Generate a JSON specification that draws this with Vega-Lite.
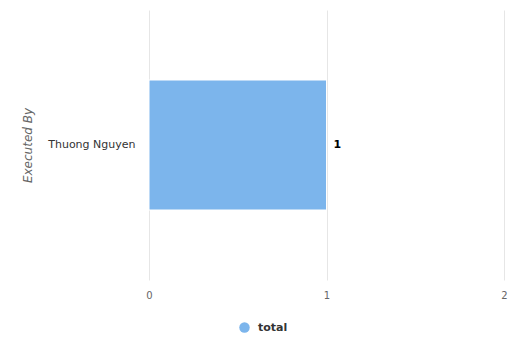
{
  "$schema": "https://vega.github.io/schema/vega-lite/v6.json",
  "autosize": "none",
  "width": 355,
  "height": 270,
  "padding": {"left": 149, "top": 10, "right": 10, "bottom": 59},
  "background": "white",
  "config": {
    "font": "DejaVu Sans",
    "view": {"stroke": null}
  },
  "data": {
    "values": [
      {"executor": "Thuong Nguyen", "series": "total", "count": 1}
    ]
  },
  "layer": [
    {
      "mark": {"type": "bar", "stroke": "white", "strokeWidth": 1},
      "encoding": {
        "y": {
          "field": "executor",
          "type": "nominal",
          "scale": {"paddingInner": 0.35, "paddingOuter": 0.35},
          "axis": {
            "title": "Executed By",
            "titleFont": "DejaVu Sans",
            "titleFontStyle": "italic",
            "titleFontWeight": "normal",
            "titleFontSize": 12,
            "titleColor": "#666666",
            "titlePadding": 13,
            "labelFont": "DejaVu Sans",
            "labelFontSize": 11,
            "labelColor": "#333333",
            "labelPadding": 14,
            "ticks": false,
            "domain": false,
            "grid": false
          }
        },
        "x": {
          "field": "count",
          "type": "quantitative",
          "scale": {"domain": [0, 2], "nice": false},
          "axis": {
            "title": null,
            "tickCount": 2,
            "format": "d",
            "labelFont": "DejaVu Sans",
            "labelFontSize": 10,
            "labelColor": "#666666",
            "labelPadding": 10,
            "labelFlush": false,
            "labelOverlap": false,
            "labelBound": false,
            "ticks": false,
            "domain": false,
            "grid": true,
            "gridColor": "#e6e6e6",
            "gridWidth": 1
          }
        },
        "color": {
          "field": "series",
          "type": "nominal",
          "scale": {"range": ["#7cb5ec"]},
          "legend": {
            "title": null,
            "orient": "none",
            "legendX": 90,
            "legendY": 312,
            "symbolType": "circle",
            "symbolSize": 110,
            "symbolStrokeWidth": 0,
            "labelOffset": 8,
            "labelFont": "DejaVu Sans",
            "labelFontSize": 11,
            "labelFontWeight": "bold",
            "labelColor": "#333333"
          }
        }
      }
    },
    {
      "mark": {
        "type": "text",
        "align": "left",
        "dx": 7,
        "font": "DejaVu Sans",
        "fontSize": 11,
        "fontWeight": "bold",
        "color": "#000000"
      },
      "encoding": {
        "y": {"field": "executor", "type": "nominal"},
        "x": {"field": "count", "type": "quantitative"},
        "text": {"field": "count", "type": "quantitative"}
      }
    }
  ]
}
